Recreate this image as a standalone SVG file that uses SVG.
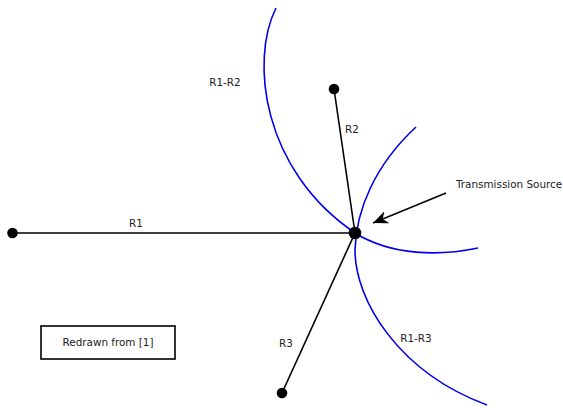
<svg xmlns="http://www.w3.org/2000/svg" width="563" height="408" viewBox="0 0 563 408">
<style>
text{font-family:"DejaVu Sans","Liberation Sans",sans-serif;font-size:10.4px;fill:#222}
.edge{stroke:#000;stroke-width:1.6;fill:none}
.curve{stroke:#0000ee;stroke-width:1.6;fill:none}
.dot{fill:#000}
</style>
<defs>
<marker id="arr" markerUnits="userSpaceOnUse" viewBox="-15 -7 16 14" refX="0" refY="0" markerWidth="16" markerHeight="14" orient="auto">
<path d="M0,0 L-15,-6.5 L-10.5,0 L-15,6.5 Z" fill="#000"/>
</marker>
</defs>
<rect width="563" height="408" fill="#fff"/>
<g id="curves">
<path id="r1r2" class="curve" d="M276,8 C250,60 262,170 355,233 C392,256 440,256 478,248"/>
<path id="r1r3" class="curve" d="M416,127 C375,165 356,210 355,250 C355,300 398,372 487,405"/>
</g>
<g id="connectors">
<line class="edge" x1="12" y1="233" x2="355" y2="233"/>
<line class="edge" x1="334" y1="89" x2="355" y2="233"/>
<line class="edge" x1="282" y1="393" x2="355" y2="233"/>
<line class="edge" x1="446" y1="193" x2="373" y2="223" marker-end="url(#arr)"/>
</g>
<g id="node-center"><circle class="dot" cx="355" cy="233" r="6.3"/></g>
<g id="node-r1"><circle class="dot" cx="12.5" cy="233" r="5.3"/></g>
<g id="node-r2"><circle class="dot" cx="334" cy="89" r="5.3"/></g>
<g id="node-r3"><circle class="dot" cx="282" cy="393" r="5.3"/></g>
<g id="labels">
<text x="225" y="86" text-anchor="middle">R1-R2</text>
<text x="352" y="133" text-anchor="middle">R2</text>
<text x="136" y="227" text-anchor="middle">R1</text>
<text x="286" y="347" text-anchor="middle">R3</text>
<text x="416" y="342" text-anchor="middle">R1-R3</text>
<text x="456" y="188">Transmission Source</text>
</g>
<g id="note">
<rect x="41" y="326" width="134" height="33" fill="#fff" stroke="#000" stroke-width="1.6"/>
<text x="108" y="346" text-anchor="middle">Redrawn from [1]</text>
</g>
</svg>
